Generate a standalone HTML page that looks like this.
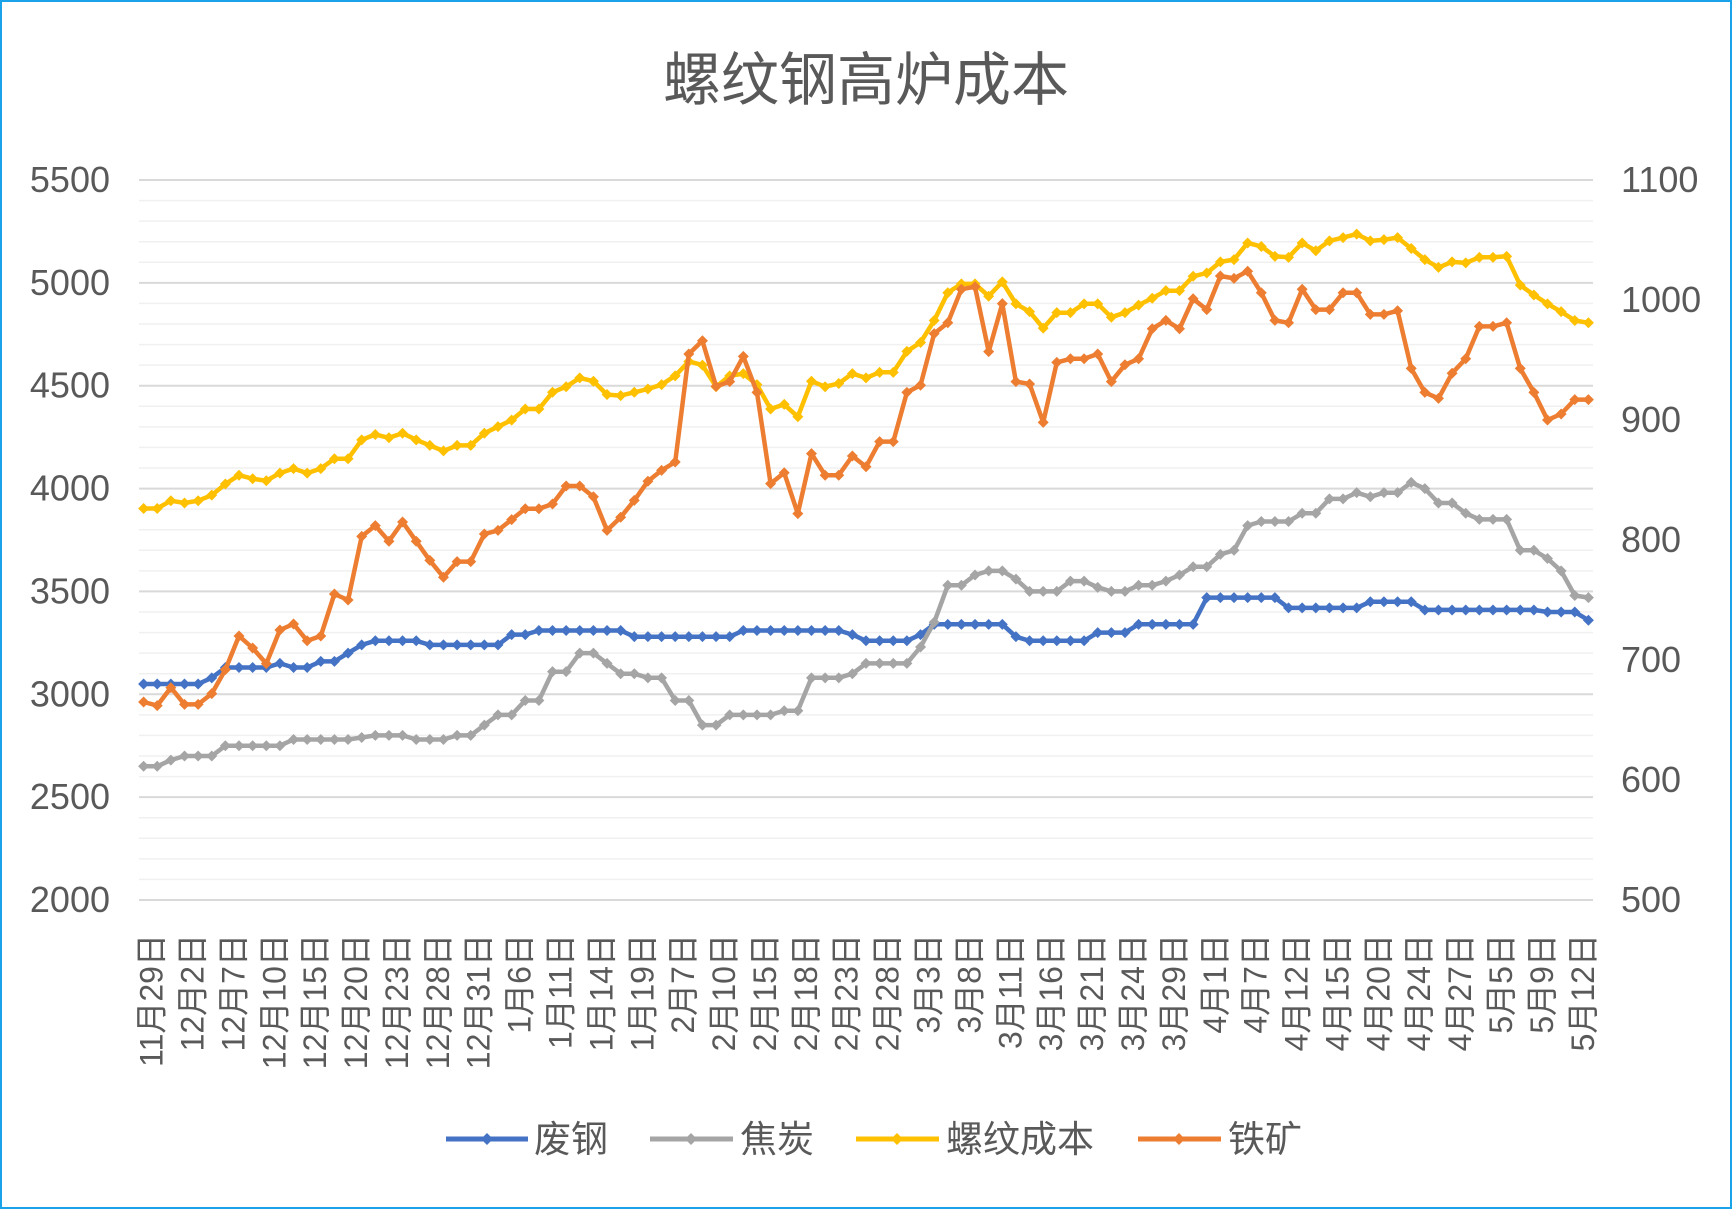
<!DOCTYPE html>
<html><head><meta charset="utf-8"><style>
html,body{margin:0;padding:0;background:#fff;}
svg{display:block;font-family:"Liberation Sans","Noto Sans CJK SC",sans-serif;}
</style></head><body>
<svg id="chart" width="1732" height="1209" viewBox="0 0 1732 1209" xmlns="http://www.w3.org/2000/svg">
<rect x="1" y="1" width="1730" height="1207" fill="#fff" stroke="#1aa3e8" stroke-width="2"/>
<text x="866" y="100" text-anchor="middle" font-size="58" fill="#595959">螺纹钢高炉成本</text>
<g id="grid"></g><g id="axes"></g><g id="series"></g>
<g font-size="37" fill="#595959">
 <g><line x1="446" y1="1139" x2="528" y2="1139" stroke="#4472c4" stroke-width="5"/><path d="M487 1133l6 6-6 6-6-6z" fill="#4472c4"/><text x="534" y="1152">废钢</text></g>
 <g><line x1="650" y1="1139" x2="733" y2="1139" stroke="#a5a5a5" stroke-width="5"/><path d="M691 1133l6 6-6 6-6-6z" fill="#a5a5a5"/><text x="740" y="1152">焦炭</text></g>
 <g><line x1="856" y1="1139" x2="939" y2="1139" stroke="#ffc000" stroke-width="5"/><path d="M897 1133l6 6-6 6-6-6z" fill="#ffc000"/><text x="946" y="1152">螺纹成本</text></g>
 <g><line x1="1138" y1="1139" x2="1221" y2="1139" stroke="#ed7d31" stroke-width="5"/><path d="M1179 1133l6 6-6 6-6-6z" fill="#ed7d31"/><text x="1228" y="1152">铁矿</text></g>
</g>
</svg>
<script>
const tickLabels=["11月29日","12月2日","12月7日","12月10日","12月15日","12月20日","12月23日","12月28日","12月31日","1月6日","1月11日","1月14日","1月19日","2月7日","2月10日","2月15日","2月18日","2月23日","2月28日","3月3日","3月8日","3月11日","3月16日","3月21日","3月24日","3月29日","4月1日","4月7日","4月12日","4月15日","4月20日","4月24日","4月27日","5月5日","5月9日","5月12日"];
const leftTicks=[2000,2500,3000,3500,4000,4500,5000,5500];
const rightTicks=[500,600,700,800,900,1000,1100];
const scrap=[3050,3050,3050,3050,3050,3080,3130,3130,3130,3130,3150,3130,3130,3160,3160,3200,3240,3260,3260,3260,3260,3240,3240,3240,3240,3240,3240,3290,3290,3310,3310,3310,3310,3310,3310,3310,3280,3280,3280,3280,3280,3280,3280,3280,3310,3310,3310,3310,3310,3310,3310,3310,3290,3260,3260,3260,3260,3290,3340,3340,3340,3340,3340,3340,3280,3260,3260,3260,3260,3260,3300,3300,3300,3340,3340,3340,3340,3340,3470,3470,3470,3470,3470,3470,3420,3420,3420,3420,3420,3420,3450,3450,3450,3450,3410,3410,3410,3410,3410,3410,3410,3410,3410,3400,3400,3400,3360];
const coke=[2650,2650,2680,2700,2700,2700,2750,2750,2750,2750,2750,2780,2780,2780,2780,2780,2790,2800,2800,2800,2780,2780,2780,2800,2800,2850,2900,2900,2970,2970,3110,3110,3200,3200,3150,3100,3100,3080,3080,2970,2970,2850,2850,2900,2900,2900,2900,2920,2920,3080,3080,3080,3100,3150,3150,3150,3150,3230,3350,3530,3530,3580,3600,3600,3560,3500,3500,3500,3550,3550,3520,3500,3500,3530,3530,3550,3580,3620,3620,3680,3700,3820,3840,3840,3840,3880,3880,3950,3950,3980,3960,3980,3980,4030,4000,3930,3930,3880,3850,3850,3850,3700,3700,3660,3600,3480,3470];
const rebarCost=[3903,3903,3941,3930,3941,3968,4022,4065,4048,4038,4075,4097,4075,4097,4145,4145,4237,4263,4247,4269,4237,4210,4183,4210,4210,4269,4301,4333,4387,4387,4468,4495,4538,4522,4457,4452,4468,4484,4505,4548,4618,4600,4495,4548,4559,4505,4387,4409,4349,4522,4495,4511,4559,4538,4565,4565,4667,4710,4817,4952,4995,4995,4935,5005,4898,4860,4780,4855,4855,4898,4898,4833,4855,4892,4925,4962,4962,5032,5048,5102,5113,5194,5177,5129,5124,5194,5156,5204,5220,5237,5204,5210,5220,5167,5113,5075,5102,5097,5124,5124,5129,4989,4941,4898,4860,4817,4806];
const ironOre=[665,662,677,663,663,672,692,720,710,697,725,730,716,720,755,750,803,812,799,815,799,783,769,782,782,805,808,817,826,826,830,845,845,836,808,819,833,849,858,865,955,966,928,932,953,923,847,856,822,872,854,854,870,861,882,882,923,929,972,981,1009,1011,957,997,932,930,898,948,951,951,955,932,946,951,976,983,976,1001,992,1020,1018,1024,1006,983,981,1009,992,992,1006,1006,988,988,991,943,923,918,939,951,978,978,981,943,923,900,905,917,917];

const NS="http://www.w3.org/2000/svg";
const X0=143.6,X1=1588.4,YT=180,YB=900;
const n=scrap.length;
function xPos(i){return X0+(X1-X0)*i/(n-1);}
function yL(v){return YB-(v-2000)/3500*(YB-YT);}
function yR(v){return YB-(v-500)/600*(YB-YT);}
function mk(tag,attrs,parent){const e=document.createElementNS(NS,tag);for(const k in attrs)e.setAttribute(k,attrs[k]);parent.appendChild(e);return e;}
const grid=document.getElementById('grid'),axes=document.getElementById('axes'),ser=document.getElementById('series');
for(let v=2000;v<=5500;v+=100){
  const major=v%500===0;
  const l=mk('line',{x1:139,x2:1593,y1:yL(v),y2:yL(v),stroke:major?'#d9d9d9':'#f0f0f0','stroke-width':major?2:1.5},grid);
  
  
}
leftTicks.forEach(v=>{
  const t=mk('text',{x:110,y:yL(v)+12,'text-anchor':'end','font-size':36,fill:'#595959'},axes);
  t.textContent=v;
  
  
});
rightTicks.forEach(v=>{
  const t=mk('text',{x:1621,y:yR(v)+12,'text-anchor':'start','font-size':36,fill:'#595959'},axes);
  t.textContent=v;
  
  
});
tickLabels.forEach((s,k)=>{
  const x=xPos(k*3)+19,y=934;
  const t=mk('text',{x:x,y:y,'text-anchor':'end','font-size':32,fill:'#595959',transform:`rotate(-90 ${x} ${y})`},axes);
  t.textContent=s;
  
  
});
function drawSeries(vals,yf,color,name){
  const g=mk('g',{},ser);
  
  
  const pts=vals.map((v,i)=>xPos(i).toFixed(1)+','+yf(v).toFixed(1)).join(' ');
  const pl=mk('polyline',{points:pts,fill:'none',stroke:color,'stroke-width':4.5,'stroke-linejoin':'round'},g);
  
  
  vals.forEach((v,i)=>{
    const x=xPos(i),y=yf(v);
    const m=mk('path',{d:`M${x} ${y-5.5}l5.5 5.5-5.5 5.5-5.5-5.5z`,fill:color},g);
    
    
  });
}
drawSeries(scrap,yL,'#4472c4','scrap-series');
drawSeries(coke,yL,'#a5a5a5','coke-series');
drawSeries(rebarCost,yL,'#ffc000','rebar-cost-series');
drawSeries(ironOre,yR,'#ed7d31','iron-ore-series');
</script>
</body></html>
